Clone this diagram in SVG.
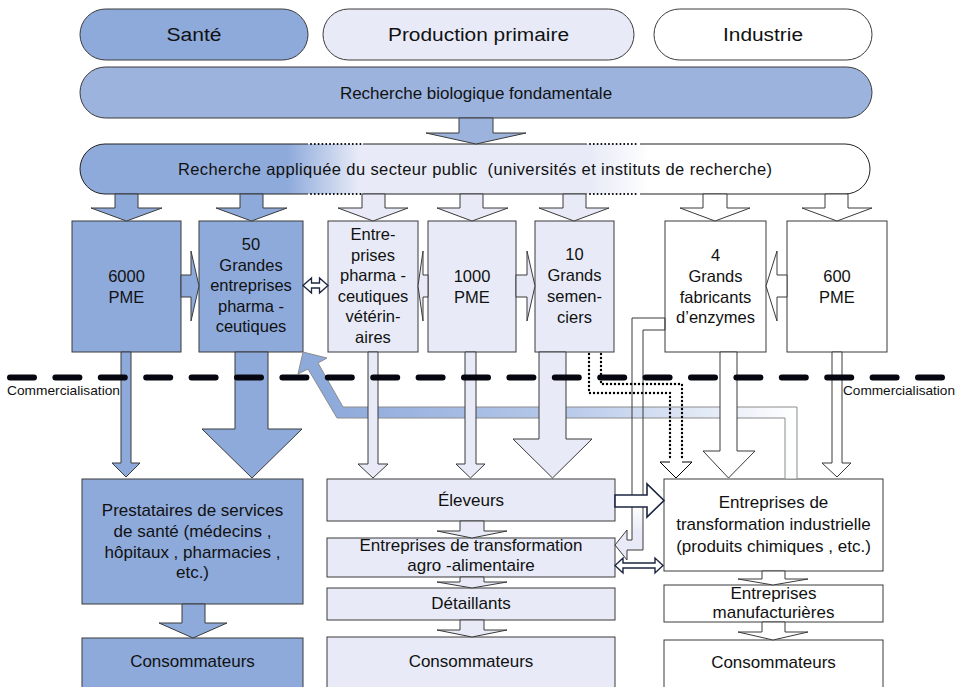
<svg xmlns="http://www.w3.org/2000/svg" width="963" height="687" viewBox="0 0 963 687">
<defs>
<style>
text{font-family:"Liberation Sans",Arial,sans-serif;fill:#111;text-anchor:middle}
.f16{font-size:16.5px}
.f17{font-size:17px}
.s{fill:#8eaadb;stroke:#3a3a3a;stroke-width:1}
.p{fill:#e8ebf7;stroke:#3a3a3a;stroke-width:1}
.w{fill:#fff;stroke:#3a3a3a;stroke-width:1}
.nav{fill:#fff;stroke:#1c2541;stroke-width:1.6}
.dot{fill:none;stroke:#000;stroke-width:2.4;stroke-linecap:round;stroke-dasharray:0 4}
.ln{fill:none;stroke:#222;stroke-width:1}
.com{font-size:13.5px;text-anchor:start}
</style>
<linearGradient id="gAppl" gradientUnits="userSpaceOnUse" x1="80" y1="0" x2="870" y2="0">
<stop offset="0" stop-color="#8eaadb"/>
<stop offset="0.262" stop-color="#8eaadb"/>
<stop offset="0.354" stop-color="#e8ebf7"/>
<stop offset="0.646" stop-color="#e8ebf7"/>
<stop offset="0.722" stop-color="#ffffff"/>
<stop offset="1" stop-color="#ffffff"/>
</linearGradient>
<linearGradient id="gBand" gradientUnits="userSpaceOnUse" x1="330" y1="0" x2="797" y2="0">
<stop offset="0" stop-color="#8eaadb"/>
<stop offset="0.5" stop-color="#b7c9ea"/>
<stop offset="1" stop-color="#ffffff"/>
</linearGradient>
<linearGradient id="gFade" gradientUnits="userSpaceOnUse" x1="0" y1="505" x2="0" y2="532">
<stop offset="0" stop-color="#e8ebf7" stop-opacity="0"/>
<stop offset="1" stop-color="#e8ebf7" stop-opacity="1"/>
</linearGradient>
</defs>

<rect width="963" height="687" fill="#fff"/>

<!-- top row -->
<g id="sante">
<rect class="s" x="80" y="9" width="228" height="51" rx="25.5"/>
<text x="194" y="41" style="font-size:18px" textLength="55" lengthAdjust="spacingAndGlyphs">Santé</text>
</g>
<g id="production-primaire">
<rect class="p" x="323" y="9" width="311" height="51" rx="25.5"/>
<text x="478.5" y="41" style="font-size:18px" textLength="181" lengthAdjust="spacingAndGlyphs">Production primaire</text>
</g>
<g id="industrie">
<rect class="w" x="654" y="9" width="218" height="51" rx="25.5"/>
<text x="763" y="41" style="font-size:18px" textLength="80" lengthAdjust="spacingAndGlyphs">Industrie</text>
</g>
<g id="recherche-bio">
<rect x="80" y="67" width="792" height="51" rx="25.5" fill="#9cb3de" stroke="#3a3a3a"/>
<text class="f17" x="476" y="98.5">Recherche biologique fondamentale</text>
</g>

<g id="recherche-appliquee">
<path d="M105,144 H845 A25,25 0 0 1 845,194 H105 A25,25 0 0 1 105,144 Z" fill="url(#gAppl)"/>
<path class="ln" d="M308,144 H105 A25,25 0 0 0 105,194 H308"/>
<path class="ln" d="M363,144 H587 M363,194 H587"/>
<path class="ln" d="M640,144 H845 A25,25 0 0 1 845,194 H640"/>
<path class="dot" style="stroke-width:2;stroke-dasharray:0 3.8" d="M311,144 H361 M311,194 H361 M590,144 H638 M590,194 H638"/>
<text class="f16" x="475" y="175" textLength="594" lengthAdjust="spacing">Recherche appliquée du secteur public&#160; (universités et instituts de recherche)</text>
</g>

<!-- company row -->
<g id="pme6000">
<rect class="s" x="72" y="221" width="109" height="131"/>
<text class="f16" x="126.5" y="282">6000</text>
<text class="f16" x="126.5" y="303">PME</text>
</g>
<g id="grandes50">
<rect class="s" x="199" y="221" width="104" height="131"/>
<text class="f16" x="251" y="249.5">50</text>
<text class="f16" x="251" y="270.5">Grandes</text>
<text class="f16" x="251" y="291">entreprises</text>
<text class="f16" x="251" y="311.5">pharma -</text>
<text class="f16" x="251" y="332">ceutiques</text>
</g>
<g id="veterinaires">
<rect class="p" x="328" y="221" width="90" height="131"/>
<text class="f16" x="373" y="240">Entre-</text>
<text class="f16" x="373" y="260.6">prises</text>
<text class="f16" x="373" y="281.2">pharma -</text>
<text class="f16" x="373" y="301.8">ceutiques</text>
<text class="f16" x="373" y="322.4">vétérin-</text>
<text class="f16" x="373" y="343">aires</text>
</g>
<g id="pme1000">
<rect class="p" x="428" y="221" width="88" height="131"/>
<text class="f16" x="472" y="282">1000</text>
<text class="f16" x="472" y="303">PME</text>
</g>
<g id="semenciers">
<rect class="p" x="535" y="221" width="79" height="131"/>
<text class="f16" x="574.5" y="260">10</text>
<text class="f16" x="574.5" y="281">Grands</text>
<text class="f16" x="574.5" y="302">semen-</text>
<text class="f16" x="574.5" y="323">ciers</text>
</g>
<g id="enzymes">
<rect class="w" x="665" y="221" width="101" height="131"/>
<text class="f16" x="715.5" y="260.5">4</text>
<text class="f16" x="715.5" y="281.5">Grands</text>
<text class="f16" x="715.5" y="302.5">fabricants</text>
<text class="f16" x="715.5" y="323">d’enzymes</text>
</g>
<g id="pme600">
<rect class="w" x="787" y="221" width="100" height="131"/>
<text class="f16" x="837" y="282">600</text>
<text class="f16" x="837" y="303">PME</text>
</g>

<!-- lower boxes -->
<g id="prestataires">
<rect class="s" x="82" y="479" width="221" height="125"/>
<text class="f17" x="192.5" y="516">Prestataires de services</text>
<text class="f17" x="192.5" y="537">de santé (médecins ,</text>
<text class="f17" x="192.5" y="557.5">hôpitaux , pharmacies ,</text>
<text class="f17" x="192.5" y="578">etc.)</text>
</g>
<g id="consommateurs-sante">
<rect class="s" x="82" y="638" width="221" height="62"/>
<text class="f17" x="192.5" y="667">Consommateurs</text>
</g>
<g id="eleveurs">
<rect class="p" x="327" y="479" width="288" height="42"/>
<text class="f17" x="471" y="506">Éleveurs</text>
</g>
<g id="agro">
<rect class="p" x="327" y="538" width="288" height="39"/>
<text class="f17" x="471" y="551">Entreprises de transformation</text>
<text class="f17" x="471" y="571">agro -alimentaire</text>
</g>
<g id="detaillants">
<rect class="p" x="327" y="588" width="288" height="32"/>
<text class="f17" x="471" y="609">Détaillants</text>
</g>
<g id="consommateurs-prim">
<rect class="p" x="327" y="637" width="288" height="63"/>
<text class="f17" x="471" y="667">Consommateurs</text>
</g>
<g id="transformation-ind">
<rect class="w" x="664" y="479" width="219" height="92"/>
<text class="f17" x="773.5" y="508">Entreprises de</text>
<text class="f17" x="773.5" y="530">transformation industrielle</text>
<text class="f17" x="773.5" y="552">(produits chimiques , etc.)</text>
</g>
<g id="manufacturieres">
<rect class="w" x="664" y="585" width="219" height="37"/>
<text class="f17" x="773.5" y="599">Entreprises</text>
<text class="f17" x="773.5" y="618">manufacturières</text>
</g>
<g id="consommateurs-ind">
<rect class="w" x="664" y="640" width="219" height="60"/>
<text class="f17" x="773.5" y="668">Consommateurs</text>
</g>

<!-- connectors -->
<g id="connectors">
<polygon points="459,118 493,118 493,133 526,133 476,144 426,133 459,133" fill="#9cb3de" stroke="#3a3a3a"/>
<polygon class="s" points="115,194 138,194 138,208 162,208 126.5,221 91,208 115,208"/>
<polygon class="s" points="240,194 263,194 263,208 287,208 251.5,221 216,208 240,208"/>
<polygon class="p" points="362,194 385,194 385,208 408,208 373,221 338,208 362,208"/>
<polygon class="p" points="460,194 483,194 483,208 508,208 472,221 437,208 460,208"/>
<polygon class="p" points="563,194 586,194 586,208 609,208 574,221 539,208 563,208"/>
<polygon class="w" points="703,194 727,194 727,208 750,208 715,221 680,208 703,208"/>
<polygon class="w" points="825,194 848,194 848,208 872,208 837,221 802,208 825,208"/>

<polygon class="s" points="181,275 191,275 191,251 199,286 191,321 191,297 181,297"/>
<polygon class="p" points="428,275 423,275 423,251 418,286 423,321 423,297 428,297"/>
<polygon class="p" points="516,275 527,275 527,251 535,286 527,321 527,297 516,297"/>
<polygon class="w" points="787,275 777,275 777,251 766,286 777,321 777,297 787,297"/>
<polygon class="w" style="stroke:#1c2541;stroke-width:1.3" points="303,285.5 311.5,278 311.5,283 319.5,283 319.5,278 328,285.5 319.5,293 319.5,288 311.5,288 311.5,293"/>

<polygon points="303,352 327,358 318,363 343,407 797,407 797,479 785,479 785,418 337,418 308,369 298,374" fill="url(#gBand)" stroke="#8c8c8c" stroke-width="1"/>

<polygon points="665,318 632,318 632,540 627,540 627,530 615,545 627,560 627,550 643,550 643,330 665,330" fill="url(#gFade)" stroke="#3a3a3a" stroke-width="1"/>

<polygon class="s" points="121,352 131,352 131,463 140,463 126,477 112,463 121,463"/>
<polygon class="s" points="235,352 268,352 268,429 302,429 252,478 202,429 235,429"/>
<polygon class="p" points="368,352 378,352 378,464 388,464 373,478 358,464 368,464"/>
<polygon class="p" points="465,352 476,352 476,464 485,464 470.5,478 456,464 465,464"/>
<polygon class="p" points="539,352 566,352 566,439 592,439 552.5,478 513,439 539,439"/>
<polygon class="w" points="720,352 737,352 737,451 755,451 728.5,478 703,451 720,451"/>
<polygon class="w" points="832,352 842,352 842,463 851,463 837,477 822,463 832,463"/>

<path class="dot" d="M589,354 V393 H670 V460 M601,354 V384 H682 V460"/>
<path fill="#fff" stroke="#000" stroke-width="1" d="M670,462 H660 L676,478 L692,462 H682"/>

<polygon class="s" points="182,604 205,604 205,623 227,623 193,638 159,623 182,623"/>
<polygon class="p" points="460,521 484,521 484,531 507,531 472,538 437,531 460,531"/>
<polygon class="p" points="460,577 484,577 484,582 507,582 472,588 437,582 460,582"/>
<polygon class="p" points="460,620 484,620 484,630 507,630 472,637 437,630 460,630"/>
<polygon class="w" points="762,571 785,571 785,579 808,579 773,585 738,579 762,579"/>
<polygon class="w" points="762,622 785,622 785,632 808,632 773,640 738,632 762,632"/>

<polygon class="nav" points="615,495 647,495 647,484 664,500.5 647,517 647,507 615,507"/>
<polygon class="nav" style="stroke-width:1.4" points="615,565.5 623,558 623,563 655,563 655,558 663,565.5 655,573 655,568 623,568 623,573"/>
</g>

<g id="commercialisation">
<path d="M10,377.5 H944" fill="none" stroke="#05060f" stroke-width="6" stroke-linecap="round" stroke-dasharray="24 21.4"/>
<text class="com" x="7" y="395" textLength="113" lengthAdjust="spacingAndGlyphs">Commercialisation</text>
<text class="com" x="843" y="395" textLength="112" lengthAdjust="spacingAndGlyphs">Commercialisation</text>
</g>
</svg>
